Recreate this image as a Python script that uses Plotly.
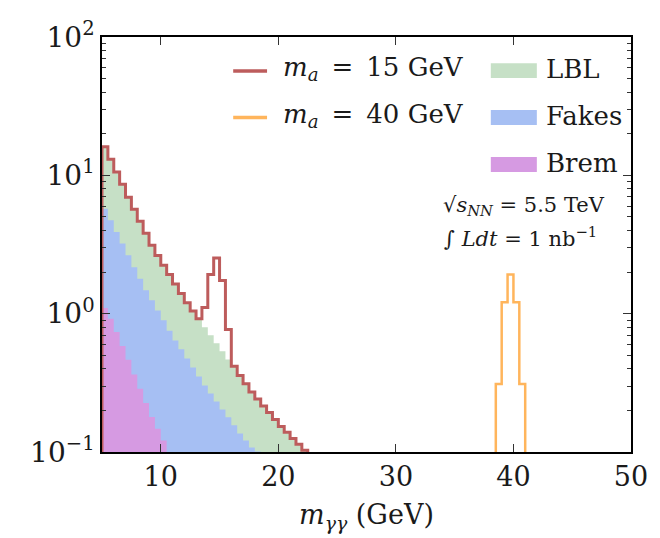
import numpy as np
import plotly.graph_objects as go

# ---------------- data ----------------
bin_width = 0.5
bin_lo = np.arange(5.0, 22.01, bin_width)          # 35 bins, 5.0 ... 22.0 GeV

brem = [1.10, 0.920, 0.736, 0.585, 0.465, 0.364, 0.287, 0.226, 0.179, 0.147, 0.121,
        0.099, 0.081, 0.066, 0.054, 0.044, 0.036, 0.029, 0.024, 0.020, 0.016, 0.013,
        0.011, 0.009, 0.007, 0.006, 0.005, 0.004, 0.003, 0.003, 0.002, 0.002, 0.002,
        0.001, 0.001]
fakes = [4.64, 3.81, 3.15, 2.63, 2.18, 1.80, 1.50, 1.25, 1.07, 0.909, 0.774,
         0.652, 0.560, 0.486, 0.421, 0.365, 0.316, 0.274, 0.241, 0.212, 0.187, 0.165,
         0.145, 0.127, 0.114, 0.102, 0.096, 0.085, 0.076, 0.067, 0.060, 0.053, 0.047,
         0.042, 0.037]
lbl = [10.33, 8.32, 6.67, 5.40, 4.29, 3.52, 2.87, 2.34, 1.87, 1.58, 1.34,
       1.17, 1.00, 0.848, 0.722, 0.635, 0.565, 0.493, 0.432, 0.378, 0.331, 0.289,
       0.260, 0.222, 0.190, 0.164, 0.141, 0.126, 0.114, 0.102, 0.091, 0.084, 0.076,
       0.071, 0.065]

sig15_lo = [13.5, 14.0, 14.5, 15.0, 15.5]
sig15 = [0.31, 1.22, 1.92, 1.20, 0.30]
sig40_lo = [38.5, 39.0, 39.5, 40.0, 40.5]
sig40 = [0.31, 1.21, 1.92, 1.21, 0.31]

y_tickvals = [0.1, 1, 10, 100]
y_ticktext = ["10<sup>\u22121</sup>", "10<sup>0</sup>", "10<sup>1</sup>", "10<sup>2</sup>"]
x_tickvals = [10, 20, 30, 40, 50]

FLOOR = 1e-3   # below the visible axis range, closes the step outlines

# ---------------- helpers ----------------
def step_xy(lo, vals):
    lo = list(lo)
    vals = list(vals)
    hi = lo[-1] + bin_width
    x = [lo[0]] + lo + [hi, hi]
    y = [FLOOR] + vals + [vals[-1], FLOOR]
    return x, y

brem_a = np.array(brem)
fakes_a = np.array(fakes)
lbl_a = np.array(lbl)
lvl_brem = brem_a
lvl_fakes = brem_a + fakes_a
lvl_total = brem_a + fakes_a + lbl_a

total15 = lvl_total.copy()
idx15 = np.round((np.array(sig15_lo) - bin_lo[0]) / bin_width).astype(int)
total15[idx15] += np.array(sig15)

GREEN = "#c6e0c6"
BLUE = "#a6bff3"
PURPLE = "#d69ae2"
RED = "#bd5c5c"
ORANGE = "#ffb55c"
FONT = "DejaVu Serif"
TXT = "#1a1a1a"

fig = go.Figure()
for lvl, col, name in [(lvl_total, GREEN, "LBL"), (lvl_fakes, BLUE, "Fakes"), (lvl_brem, PURPLE, "Brem")]:
    x, y = step_xy(bin_lo, lvl)
    fig.add_trace(go.Scatter(x=x, y=y, mode="lines", line=dict(shape="hv", width=0, color=col),
                             fill="toself", fillcolor=col, name=name, showlegend=False,
                             hoverinfo="skip"))

x, y = step_xy(bin_lo, total15)
fig.add_trace(go.Scatter(x=x, y=y, mode="lines", line=dict(shape="hv", width=3, color=RED),
                         name="m_a = 15 GeV", showlegend=False))
x, y = step_xy(sig40_lo, sig40)
fig.add_trace(go.Scatter(x=x, y=y, mode="lines", line=dict(shape="hv", width=2.5, color=ORANGE),
                         name="m_a = 40 GeV", showlegend=False))

# ---------------- manual legend ----------------
def line_item(x0, x1, yc, col, w, text):
    fig.add_shape(type="line", xref="x domain", yref="y domain", x0=x0, x1=x1, y0=yc, y1=yc,
                  line=dict(color=col, width=w))
    fig.add_annotation(xref="x domain", yref="y domain", x=x1 + 0.026, y=yc + 0.006, text=text,
                       showarrow=False, xanchor="left", yanchor="middle",
                       font=dict(family=FONT, size=26, color=TXT))

def patch_item(yc, col, text):
    fig.add_shape(type="rect", xref="x domain", yref="y domain", x0=0.735, x1=0.822,
                  y0=yc - 0.018, y1=yc + 0.018, line=dict(width=0), fillcolor=col)
    fig.add_annotation(xref="x domain", yref="y domain", x=0.836, y=yc + 0.004, text=text,
                       showarrow=False, xanchor="left", yanchor="middle",
                       font=dict(family=FONT, size=26, color=TXT))

line_item(0.248, 0.312, 0.918, RED, 3.5, "<i>m</i><sub><i>a</i></sub>\u2002=\u200215 GeV")
line_item(0.248, 0.312, 0.806, ORANGE, 3.5, "<i>m</i><sub><i>a</i></sub>\u2002=\u200240 GeV")
patch_item(0.919, GREEN, "LBL")
patch_item(0.806, BLUE, "Fakes")
patch_item(0.693, PURPLE, "Brem")

fig.add_annotation(xref="x domain", yref="y domain", x=0.797, y=0.592, showarrow=False,
                   text="\u221a<i>s</i><sub><i>NN</i></sub> = 5.5 TeV",
                   font=dict(family=FONT, size=21, color=TXT), xanchor="center", yanchor="middle")
fig.add_annotation(xref="x domain", yref="y domain", x=0.792, y=0.518, showarrow=False,
                   text="\u222b <i>Ldt</i> = 1 nb<sup>\u22121</sup>",
                   font=dict(family=FONT, size=21, color=TXT), xanchor="center", yanchor="middle")

minor_vals = [m * d for d in (0.1, 1, 10) for m in range(2, 10)]

fig.update_layout(
    width=660, height=538,
    margin=dict(l=102, r=26, t=37, b=86),
    paper_bgcolor="white", plot_bgcolor="white",
    font=dict(family=FONT, color=TXT),
    showlegend=False,
    xaxis=dict(range=[5, 50], tickvals=x_tickvals, ticks="inside", ticklen=8, tickwidth=1,
               tickcolor="#333", showline=True, linecolor="black", linewidth=1.5, mirror="ticks",
               showgrid=False, zeroline=False, tickfont=dict(family=FONT, size=27, color=TXT),
               title=dict(text="<i>m</i><sub><i>\u03b3\u03b3</i></sub> (GeV)",
                          font=dict(family=FONT, size=27, color=TXT), standoff=14)),
    yaxis=dict(type="log", range=[-1, 2], tickvals=y_tickvals, ticktext=y_ticktext,
               ticks="inside", ticklen=8, tickwidth=1, tickcolor="#333",
               showline=True, linecolor="black", linewidth=1.5, mirror="ticks",
               showgrid=False, zeroline=False, tickfont=dict(family=FONT, size=28, color=TXT),
               minor=dict(tickvals=minor_vals, ticks="inside", ticklen=4, tickcolor="#333",
                          tickwidth=1, showgrid=False)),
)

fig.write_html("out.html")
